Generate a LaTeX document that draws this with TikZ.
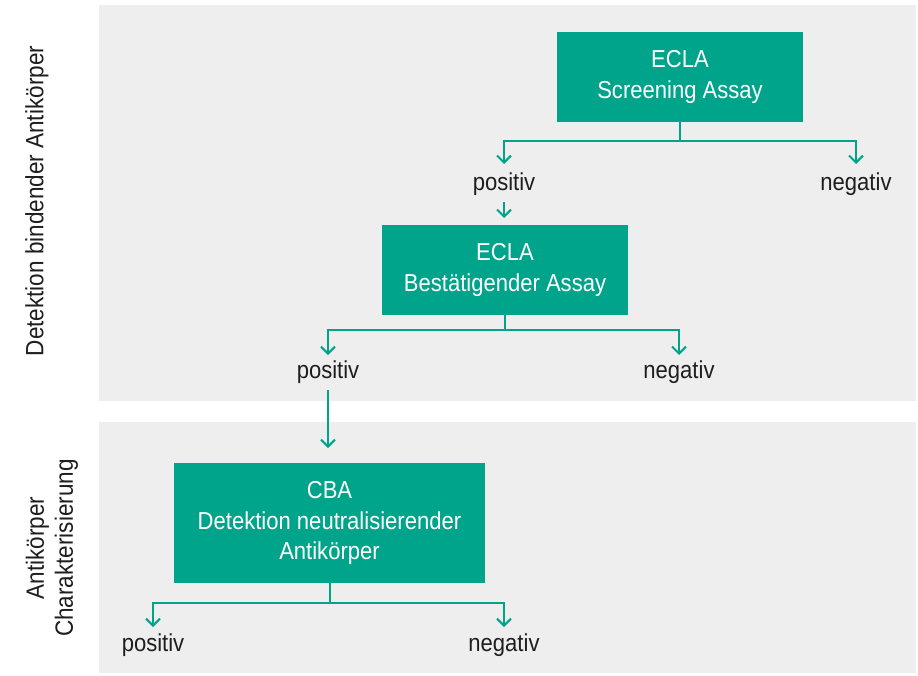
\documentclass[tikz,border=0pt]{standalone}
\usepackage{fontspec}
\setmainfont{Liberation Sans}[FakeStretch=0.9]
\usetikzlibrary{arrows.meta}
\definecolor{teal1}{HTML}{00A48A}
\definecolor{panel}{HTML}{EEEEEE}
\definecolor{txt}{HTML}{1E1E1E}
\begin{document}
\begin{tikzpicture}[x=1pt,y=-1pt,
  box/.style={fill=teal1,text=white,inner sep=0pt,align=center,font=\fontsize{24.5}{30.5}\selectfont},
  lbl/.style={text=txt,inner sep=0pt,font=\fontsize{24.5}{30.5}\selectfont},
  side/.style={text=txt,inner sep=0pt,align=center,rotate=90,font=\fontsize{25}{29}\selectfont},
  conn/.style={draw=teal1,line width=2pt},
  arr/.style={conn,-{Straight Barb[length=7pt,width=14pt,line width=2pt]}}]
\useasboundingbox (0,0) rectangle (918,675);
\fill[white] (0,0) rectangle (918,675);
\fill[panel] (99,5) rectangle (916,401);
\fill[panel] (99,422) rectangle (916,673);
% boxes
\node[box,minimum width=246pt,minimum height=90pt] (scr) at (680,77) {ECLA\\Screening Assay};
\node[box,minimum width=246pt,minimum height=90pt] (bst) at (505,270) {ECLA\\Bestätigender Assay};
\node[box,minimum width=311pt,minimum height=120pt] (cba) at (329.5,523) {CBA\\Detektion neutralisierender\\Antikörper};
% labels
\node[lbl] (p1) at (504,184) {positiv};
\node[lbl] (n1) at (856,184) {negativ};
\node[lbl] (p2) at (328,372) {positiv};
\node[lbl] (n2) at (679,372) {negativ};
\node[lbl] (p3) at (153,645) {positiv};
\node[lbl] (n3) at (504,645) {negativ};
\node[side] (s1) at (37,201) {Detektion bindender Antikörper};
\node[side] (s2) at (52,548) {Antikörper\\Charakterisierung};
% coordinates
\coordinate (j1) at (680,141);
\coordinate (j2) at (505,330);
\coordinate (j3) at (329.5,603);
\coordinate (tp1) at (504,164);
\coordinate (tn1) at (856,164);
\coordinate (tp2) at (328,355);
\coordinate (tn2) at (679,355);
\coordinate (tp3) at (153,627);
\coordinate (tn3) at (504,627);
\coordinate (a1) at (504,202);
\coordinate (b1) at (504,218);
\coordinate (a2) at (328,390);
\coordinate (b2) at (328,448);
% connectors
\draw[conn] (scr.south) -- (j1);
\draw[arr] (j1) -- (j1 -| tp1) -- (tp1);
\draw[arr] (j1) -- (j1 -| tn1) -- (tn1);
\draw[arr] (a1) -- (b1);
\draw[conn] (bst.south) -- (j2);
\draw[arr] (j2) -- (j2 -| tp2) -- (tp2);
\draw[arr] (j2) -- (j2 -| tn2) -- (tn2);
\draw[arr] (a2) -- (b2);
\draw[conn] (cba.south) -- (j3);
\draw[arr] (j3) -- (j3 -| tp3) -- (tp3);
\draw[arr] (j3) -- (j3 -| tn3) -- (tn3);
\end{tikzpicture}
\end{document}
